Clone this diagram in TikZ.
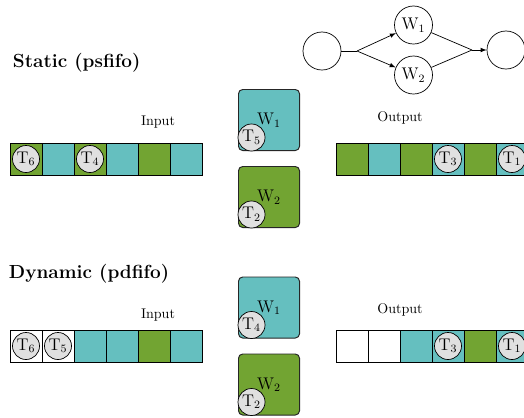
\documentclass[tikz,border=0pt]{standalone}
\usetikzlibrary{arrows}
\definecolor{qcyan}{RGB}{101,191,191}
\definecolor{qgreen}{RGB}{114,164,50}
\definecolor{tgray}{RGB}{224,224,224}
\tikzset{
  cell/.style={draw, line width=0.7pt, minimum size=0.8cm, inner sep=0pt},
  task/.style={circle, draw, line width=0.5pt, fill=tgray, minimum size=0.675cm, inner sep=0pt, font=\large},
  worker/.style={draw=black!85, line width=0.7pt, rounded corners=3pt, minimum size=1.525cm, inner sep=0pt, font=\large},
  vertex/.style={circle, draw, line width=0.5pt, minimum size=0.95cm, inner sep=0pt, font=\large},
  title/.style={anchor=west, font=\bfseries\fontsize{13.5}{16}\selectfont},
}
\begin{document}
\begin{tikzpicture}[x=0.025cm, y=-0.025cm]
        \useasboundingbox (0,0) rectangle (524,417);
        \clip (0,0) rectangle (524,417);

        % task graph
        \node[vertex](src)at(322,51){};
        \node[vertex](w1)at(413.5,25){W$_1$};
        \node[vertex](w2)at(413.5,75){W$_2$};
        \node[vertex](snk)at(506,50){};
        \coordinate(split)at(357,51);
        \coordinate(merge)at(472,50);
        \draw[line width=0.5pt](src)--(split);
        \draw[-latex,line width=0.5pt](split)--(w1);
        \draw[-latex,line width=0.5pt](split)--(w2);
        \draw[line width=0.5pt](w1)--(merge);
        \draw[line width=0.5pt](w2)--(merge);
        \draw[-latex,line width=0.5pt](merge)--(snk);

        % static
        \node[title](st)at(8,63){Static (psfifo)};
        \node(sin)at(158,122){Input};
        \node(sout)at(400,118){Output};
        \foreach \c [count=\i] in {qgreen,qcyan,qgreen,qcyan,qgreen,qcyan} \node[cell,fill=\c](si\i)at({32*\i-6},159){};
        \foreach \c [count=\i] in {qgreen,qcyan,qgreen,qcyan,qgreen,qcyan} \node[cell,fill=\c](so\i)at({32*\i+320},159){};
        \node[task](st6)at(si1){T$_6$};
        \node[task](st4)at(si3){T$_4$};
        \node[task](st3)at(so4){T$_3$};
        \node[task](st1)at(so6){T$_1$};
        \node[worker,fill=qcyan](sw1)at(269,120){W$_1$};
        \node[worker,fill=qgreen](sw2)at(269,197){W$_2$};
        \node[task](st5)at([shift={(13.5,-13.5)}]sw1.south west){T$_5$};
        \node[task](st2)at([shift={(13.5,-13.5)}]sw2.south west){T$_2$};

        % dynamic
        \node[title](dt)at(4,274){Dynamic (pdfifo)};
        \node(din)at(158,315){Input};
        \node(dout)at(400,310){Output};
        \foreach \c [count=\i] in {white,white,qcyan,qcyan,qgreen,qcyan} \node[cell,fill=\c](di\i)at({32*\i-6},346){};
        \foreach \c [count=\i] in {white,white,qcyan,qcyan,qgreen,qcyan} \node[cell,fill=\c](do\i)at({32*\i+320},346){};
        \node[task](dt6)at(di1){T$_6$};
        \node[task](dt5)at(di2){T$_5$};
        \node[task](dt3)at(do4){T$_3$};
        \node[task](dt1)at(do6){T$_1$};
        \node[worker,fill=qcyan](dw1)at(269,307.5){W$_1$};
        \node[worker,fill=qgreen](dw2)at(269,384.5){W$_2$};
        \node[task](dt4)at([shift={(13.5,-13.5)}]dw1.south west){T$_4$};
        \node[task](dt2)at([shift={(13.5,-13.5)}]dw2.south west){T$_2$};
\end{tikzpicture}
\end{document}
